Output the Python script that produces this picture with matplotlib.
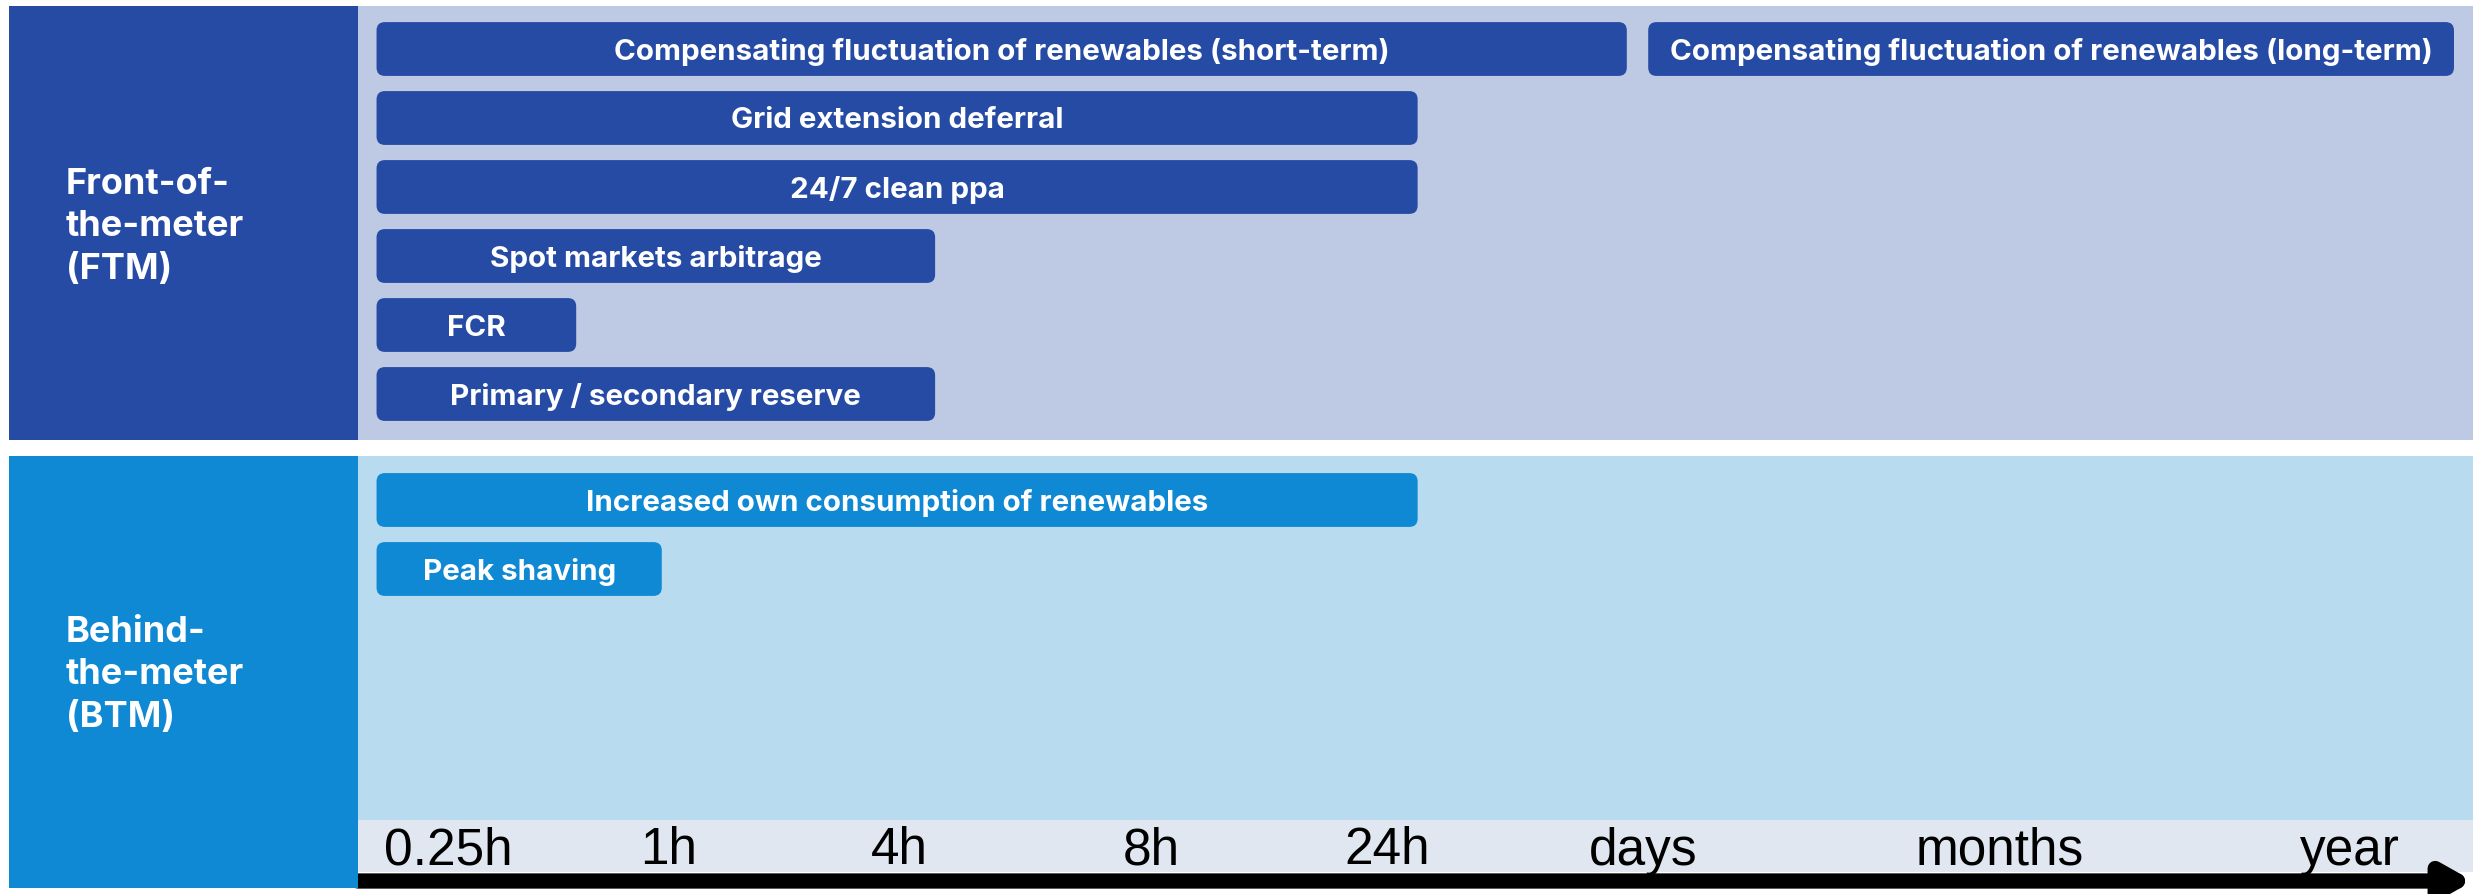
import matplotlib.pyplot as plt
from matplotlib.patches import FancyBboxPatch, Rectangle

# Achsenbeschriftung (Zeitskala) und Positionen der Marken
zeit_labels = ["0.25h", "1h", "4h", "8h", "24h", "days", "months", "year"]
zeit_pos = [0, 0.93, 1.90, 2.96, 3.95, 5.03, 6.53, 8.0]

# Front-of-the-meter: Anwendungen, Start und Ende auf der Zeitskala, Zeile
ftm_namen = ["Compensating fluctuation of renewables (short-term)",
             "Compensating fluctuation of renewables (long-term)",
             "Grid extension deferral",
             "24/7 clean ppa",
             "Spot markets arbitrage",
             "FCR",
             "Primary / secondary reserve"]
ftm_start = [-0.30, 5.05, -0.30, -0.30, -0.30, -0.30, -0.30]
ftm_ende = [4.96, 8.44, 4.08, 4.08, 2.05, 0.54, 2.05]
ftm_zeile = [0, 0, 1, 2, 3, 4, 5]

# Behind-the-meter
btm_namen = ["Increased own consumption of renewables", "Peak shaving"]
btm_start = [-0.30, -0.30]
btm_ende = [4.08, 0.90]
btm_zeile = [0, 1]

# Farben
dunkelblau = "#264BA5"
hellblau_ftm = "#BEC9E3"
btm_blau = "#1089D4"
hellblau_btm = "#B8DBF0"
band_grau = "#E1E7F0"

W, H = 2473, 894
fig = plt.figure(figsize=(W / 100, H / 100), dpi=100)


def rect(x0, y0, x1, y1):
    # Pixel (von oben) -> Figurkoordinaten
    return [x0 / W, 1 - y1 / H, (x1 - x0) / W, (y1 - y0) / H]


xlim = (-0.378, 8.52)
px_x = (W - 358) / (xlim[1] - xlim[0])
pitch = 69.0


def panel(ax, namen, start, ende, zeile, farbe):
    aspect = px_x / pitch
    for n, s, e, z in zip(namen, start, ende, zeile):
        h = 0.78
        box = FancyBboxPatch((s, z - h / 2), e - s, h,
                             boxstyle="round,pad=0,rounding_size=0.035",
                             mutation_aspect=aspect, facecolor=farbe,
                             edgecolor="none")
        ax.add_patch(box)
        ax.text((s + e) / 2, z, n, ha="center", va="center_baseline",
                color="white", fontsize=21.3, fontweight="bold",
                family="Inter")
    ax.set_xlim(*xlim)
    ax.axis("off")


# FTM
ax1 = fig.add_axes(rect(358, 6, W, 440))
ax1.add_patch(Rectangle((0, 0), 1, 1, transform=ax1.transAxes,
                        facecolor=hellblau_ftm, edgecolor="none"))
panel(ax1, ftm_namen, ftm_start, ftm_ende, ftm_zeile, dunkelblau)
ax1.set_ylim((434 - 43) / pitch, -43 / pitch)

# BTM
ax2 = fig.add_axes(rect(358, 456, W, 820))
ax2.add_patch(Rectangle((0, 0), 1, 1, transform=ax2.transAxes,
                        facecolor=hellblau_btm, edgecolor="none"))
panel(ax2, btm_namen, btm_start, btm_ende, btm_zeile, btm_blau)
ax2.set_ylim((364 - 44) / pitch, -44 / pitch)

# linke Beschriftungsfelder
fig.patches.append(Rectangle((9 / W, 1 - 440 / H), 349 / W, 434 / H,
                             transform=fig.transFigure, facecolor=dunkelblau,
                             edgecolor="none"))
fig.patches.append(Rectangle((9 / W, 1 - 888 / H), 349 / W, 432 / H,
                             transform=fig.transFigure, facecolor=btm_blau,
                             edgecolor="none"))
fig.text(66 / W, 1 - 227 / H, "Front-of-\nthe-meter\n(FTM)", color="white",
         fontsize=26, fontweight="bold", family="Inter", ha="left",
         va="center", linespacing=1.36)
fig.text(66 / W, 1 - 675 / H, "Behind-\nthe-meter\n(BTM)", color="white",
         fontsize=26, fontweight="bold", family="Inter", ha="left",
         va="center", linespacing=1.36)

# Zeitachse
ax3 = fig.add_axes(rect(358, 820, W, H))
ax3.set_xlim(*xlim)
ax3.set_ylim(0, 74)
ax3.add_patch(Rectangle((xlim[0], 22), xlim[1] - xlim[0], 52,
                        facecolor=band_grau, edgecolor="none"))
for p, l in zip(zeit_pos, zeit_labels):
    ax3.text(p, 43, l, ha="center", va="center", fontsize=37,
             family="Liberation Sans", color="black")
ax3.annotate("", xy=(xlim[1], 13), xytext=(xlim[0], 13),
             arrowprops=dict(arrowstyle="-|>,head_length=1.6,head_width=0.9",
                             lw=11, color="black", shrinkA=0, shrinkB=0))
ax3.axis("off")

fig.savefig("out.png", dpi=100)
